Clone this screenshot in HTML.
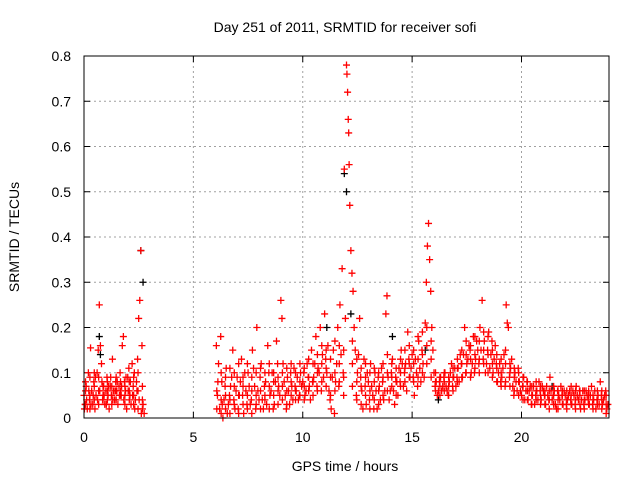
<!DOCTYPE html>
<html><head><meta charset="utf-8"><style>
html,body{margin:0;padding:0;background:#fff;}
svg{display:block;font-family:"Liberation Sans",sans-serif;}
</style></head><body>
<svg id="chart" width="640" height="480" xmlns="http://www.w3.org/2000/svg">
<text x="345" y="32" font-size="14" text-anchor="middle" fill="#000">Day 251 of 2011, SRMTID for receiver sofi</text>
<text transform="translate(19,237) rotate(-90)" font-size="14" text-anchor="middle">SRMTID / TECUs</text>
<text x="345" y="471" font-size="14" text-anchor="middle">GPS time / hours</text>
<g id="grid"></g>
<g id="ticks"></g>
<g id="marks"></g>
<rect x="84" y="56" width="525" height="362" fill="none" stroke="#000" stroke-width="1"/>
</svg>
<script>
const xTicks=[0,5,10,15,20];
const yTicks=[0,0.1,0.2,0.3,0.4,0.5,0.6,0.7,0.8];
const yTickLabels=["0","0.1","0.2","0.3","0.4","0.5","0.6","0.7","0.8"];
const blackPoints=[[0.7,0.18],[2.6,0.37],[11.9,0.54],[12.0,0.5],[11.1,0.2],[15.6,0.15],[14.1,0.18],[16.2,0.04],[21.4,0.07],[12.2,0.23],[2.7,0.3],[0.75,0.14]];
const redPoints=[[0.0,0.05],[0.05,0.03],[0.1,0.07],[0.15,0.02],[0.2,0.1],[0.25,0.04],[0.3,0.155],[0.35,0.06],[0.4,0.03],[0.45,0.08],[0.5,0.02],[0.55,0.05],[0.6,0.1],[0.65,0.15],[0.7,0.25],[0.75,0.16],[0.8,0.12],[0.85,0.04],[0.9,0.07],[0.95,0.03],[1.0,0.06],[1.05,0.09],[1.1,0.05],[1.15,0.02],[1.2,0.07],[1.25,0.05],[1.3,0.13],[1.35,0.06],[1.4,0.04],[1.45,0.08],[1.5,0.06],[1.55,0.03],[1.6,0.07],[1.65,0.1],[1.7,0.05],[1.75,0.16],[1.8,0.18],[1.85,0.08],[1.9,0.06],[1.95,0.02],[2.0,0.09],[2.05,0.11],[2.1,0.05],[2.15,0.03],[2.2,0.12],[2.25,0.07],[2.3,0.1],[2.35,0.04],[2.4,0.08],[2.45,0.13],[2.5,0.22],[2.55,0.26],[2.6,0.37],[2.65,0.16],[2.7,0.03],[2.75,0.01],
[6.05,0.16],[6.1,0.05],[6.15,0.12],[6.2,0.02],[6.25,0.18],[6.3,0.08],[6.35,0.0],[6.4,0.04],[6.5,0.11],[6.6,0.03],[6.7,0.07],[6.8,0.15],[6.9,0.02],[7.0,0.09],[7.1,0.05],[7.2,0.13],[7.3,0.01],[7.4,0.06],[7.5,0.1],[7.6,0.03],[7.7,0.15],[7.8,0.07],[7.9,0.2],[8.0,0.04],[8.1,0.12],[8.2,0.02],[8.3,0.08],[8.4,0.16],[8.5,0.05],[8.6,0.1],[8.7,0.03],[8.8,0.17],[8.9,0.07],[9.0,0.26],[9.05,0.22],[9.1,0.12],[9.2,0.05],[9.3,0.09],[9.4,0.03],[9.5,0.07],[9.6,0.11],[9.7,0.06],[9.8,0.04],[9.9,0.1],[10.0,0.08],[10.1,0.05],[10.2,0.12],[10.3,0.07],[10.4,0.15],[10.5,0.09],[10.6,0.18],[10.7,0.11],[10.8,0.2],[10.9,0.14],[11.0,0.23],[11.1,0.1],[11.2,0.06],[11.3,0.02],[11.4,0.15],[11.5,0.08],[11.6,0.2],[11.7,0.25],[11.8,0.33],[11.9,0.55],[12.0,0.78],[12.02,0.76],[12.05,0.72],[12.08,0.66],[12.1,0.63],[12.12,0.56],[12.15,0.47],[12.2,0.37],[12.25,0.32],[12.3,0.28],[12.35,0.2],[12.4,0.15],[12.5,0.1],[12.6,0.22],[12.7,0.06],[12.8,0.13],[12.9,0.03],[13.0,0.08],[13.1,0.12],[13.2,0.05],[13.3,0.1],[13.4,0.02],[13.5,0.07],[13.6,0.11],[13.7,0.04],[13.8,0.23],[13.85,0.27],[13.9,0.09],[14.0,0.06],[14.1,0.13],[14.2,0.03],[14.3,0.08],[14.4,0.11],[14.5,0.15],[14.6,0.07],[14.7,0.12],[14.8,0.19],[14.9,0.09],[15.0,0.14],[15.1,0.05],[15.2,0.1],[15.3,0.17],[15.4,0.08],[15.5,0.12],[15.6,0.21],[15.65,0.3],[15.7,0.38],[15.75,0.43],[15.8,0.35],[15.85,0.28],[15.9,0.2],[15.95,0.15],[16.0,0.1],[16.1,0.08],[16.2,0.06],[16.3,0.09],[16.4,0.07],[16.5,0.1],[16.6,0.06],[16.7,0.08],[16.8,0.12],[16.9,0.09],[17.0,0.07],[17.1,0.11],[17.2,0.14],[17.3,0.09],[17.4,0.2],[17.5,0.12],[17.6,0.16],[17.7,0.1],[17.8,0.18],[17.9,0.13],[18.0,0.15],[18.1,0.2],[18.2,0.26],[18.3,0.17],[18.4,0.12],[18.5,0.19],[18.6,0.14],[18.7,0.1],[18.8,0.16],[18.9,0.08],[19.0,0.12],[19.1,0.09],[19.2,0.14],[19.3,0.25],[19.4,0.2],[19.5,0.11],[19.6,0.07],[19.7,0.1],[19.8,0.06],[19.9,0.08],[20.0,0.05],[20.1,0.09],[20.2,0.06],[20.3,0.04],[20.4,0.07],[20.5,0.05],[20.6,0.03],[20.7,0.06],[20.8,0.08],[20.9,0.04],[21.0,0.06],[21.1,0.03],[21.2,0.05],[21.3,0.09],[21.4,0.04],[21.5,0.06],[21.6,0.02],[21.7,0.05],[21.8,0.07],[21.9,0.03],[22.0,0.05],[22.1,0.04],[22.2,0.06],[22.3,0.03],[22.4,0.05],[22.5,0.07],[22.6,0.04],[22.7,0.02],[22.8,0.06],[22.9,0.04],[23.0,0.05],[23.1,0.03],[23.2,0.07],[23.3,0.04],[23.4,0.02],[23.5,0.05],[23.6,0.08],[23.7,0.03],[23.8,0.05],[23.9,0.02],
[0.02,0.02],[0.12,0.04],[0.22,0.06],[0.32,0.03],[0.42,0.05],[0.52,0.09],[0.62,0.04],[0.72,0.06],[0.82,0.08],[0.92,0.05],[1.02,0.03],[1.12,0.07],[1.22,0.09],[1.32,0.04],[1.42,0.06],[1.52,0.08],[1.62,0.05],[1.72,0.07],[1.82,0.04],[1.92,0.09],[2.02,0.06],[2.12,0.08],[2.22,0.05],[2.32,0.02],[2.42,0.06],[2.52,0.04],[2.62,0.01],
[6.12,0.08],[6.32,0.03],[6.45,0.07],[6.55,0.01],[6.65,0.05],[6.75,0.09],[6.85,0.04],[6.95,0.06],[7.05,0.02],[7.15,0.08],[7.25,0.05],[7.35,0.1],[7.45,0.03],[7.55,0.07],[7.65,0.04],[7.75,0.11],[7.85,0.02],[7.95,0.06],[8.05,0.09],[8.15,0.04],[8.25,0.07],[8.35,0.03],[8.45,0.1],[8.55,0.06],[8.65,0.02],[8.75,0.08],[8.85,0.12],[8.95,0.05],[9.15,0.08],[9.25,0.02],[9.35,0.06],[9.45,0.1],[9.55,0.04],[9.65,0.07],[9.75,0.09],[9.85,0.05],[9.95,0.07],[10.05,0.1],[10.15,0.06],[10.25,0.09],[10.35,0.04],[10.45,0.08],[10.55,0.12],[10.65,0.07],[10.75,0.1],[10.85,0.06],[10.95,0.09],[11.05,0.13],[11.15,0.16],[11.25,0.04],[11.35,0.09],[11.45,0.01],[11.55,0.12],[11.65,0.07],[11.75,0.14],[11.85,0.1],[11.95,0.22],[12.45,0.05],[12.55,0.14],[12.65,0.09],[12.75,0.02],[12.85,0.07],[12.95,0.1],[13.05,0.04],[13.15,0.07],[13.25,0.02],[13.35,0.06],[13.45,0.09],[13.55,0.04],[13.65,0.08],[13.75,0.06],[13.95,0.04],[14.05,0.1],[14.15,0.06],[14.25,0.09],[14.35,0.05],[14.45,0.08],[14.55,0.12],[14.65,0.1],[14.75,0.06],[14.85,0.13],[14.95,0.11],[15.05,0.09],[15.15,0.13],[15.25,0.07],[15.35,0.11],[15.45,0.15],[15.55,0.09],[16.05,0.07],[16.15,0.05],[16.25,0.08],[16.35,0.06],[16.45,0.09],[16.55,0.07],[16.65,0.05],[16.75,0.1],[16.85,0.07],[16.95,0.11],[17.05,0.09],[17.15,0.08],[17.25,0.12],[17.35,0.14],[17.45,0.1],[17.55,0.13],[17.65,0.15],[17.75,0.12],[17.85,0.1],[17.95,0.17],[18.05,0.12],[18.15,0.15],[18.25,0.13],[18.35,0.1],[18.45,0.15],[18.55,0.11],[18.65,0.17],[18.75,0.13],[18.85,0.12],[18.95,0.1],[19.05,0.08],[19.15,0.11],[19.25,0.07],[19.35,0.21],[19.45,0.09],[19.55,0.13],[19.65,0.05],[19.75,0.08],[19.85,0.11],[19.95,0.06],[20.05,0.07],[20.15,0.04],[20.25,0.08],[20.35,0.06],[20.45,0.03],[20.55,0.07],[20.65,0.05],[20.75,0.04],[20.85,0.06],[20.95,0.07],[21.05,0.05],[21.15,0.07],[21.25,0.04],[21.35,0.06],[21.45,0.05],[21.55,0.03],[21.65,0.06],[21.75,0.04],[21.85,0.05],[21.95,0.06],[22.05,0.03],[22.15,0.05],[22.25,0.04],[22.35,0.06],[22.45,0.03],[22.55,0.05],[22.65,0.06],[22.75,0.04],[22.85,0.03],[22.95,0.06],[23.05,0.04],[23.15,0.05],[23.25,0.03],[23.35,0.06],[23.45,0.04],[23.55,0.03],[23.65,0.05],[23.75,0.04],[23.85,0.06],[23.95,0.03]];
// additional dense samples: [time, [values...]]
const denseColumns=[[0.07,[0.03,0.06,0.08]],[0.27,[0.02,0.05,0.09]],[0.47,[0.04,0.07,0.1]],[0.67,[0.03,0.06,0.09]],[0.87,[0.05,0.07,0.04]],[1.07,[0.04,0.06,0.08]],[1.27,[0.05,0.07,0.03]],[1.47,[0.04,0.06,0.09]],[1.67,[0.05,0.08,0.06]],[1.87,[0.03,0.07,0.05]],[2.07,[0.04,0.06,0.08]],[2.27,[0.03,0.05,0.09]],[2.47,[0.02,0.06,0.1]],[2.67,[0.04,0.07,0.02]],
[6.07,[0.02,0.06]],[6.27,[0.04,0.1,0.01]],[6.47,[0.02,0.05,0.09]],[6.67,[0.01,0.04,0.11]],[6.87,[0.03,0.07,0.1]],[7.07,[0.01,0.05,0.12]],[7.27,[0.03,0.07,0.09]],[7.47,[0.02,0.05,0.12]],[7.67,[0.01,0.06,0.09]],[7.87,[0.03,0.05,0.1]],[8.07,[0.02,0.06,0.11]],[8.27,[0.04,0.05,0.1]],[8.47,[0.02,0.07,0.12]],[8.67,[0.05,0.08,0.1]],[8.87,[0.03,0.06,0.09]],[9.07,[0.04,0.07,0.1]],[9.27,[0.03,0.06,0.11]],[9.47,[0.05,0.08,0.12]],[9.67,[0.04,0.06,0.1]],[9.87,[0.05,0.08,0.12]],[10.07,[0.04,0.07,0.11]],[10.27,[0.06,0.09,0.13]],[10.47,[0.05,0.08,0.12]],[10.67,[0.06,0.1,0.14]],[10.87,[0.08,0.12,0.16]],[11.07,[0.07,0.11,0.15]],[11.27,[0.05,0.09,0.13]],[11.47,[0.06,0.1,0.17]],[11.67,[0.08,0.12,0.16]],[11.87,[0.05,0.09,0.15]],[12.27,[0.07,0.12,0.17]],[12.47,[0.04,0.08,0.13]],[12.67,[0.03,0.07,0.11]],[12.87,[0.05,0.09,0.12]],[13.07,[0.02,0.06,0.1]],[13.27,[0.04,0.08,0.11]],[13.47,[0.03,0.06,0.1]],[13.67,[0.05,0.09,0.12]],[13.87,[0.06,0.1,0.14]],[14.07,[0.07,0.09,0.12]],[14.27,[0.05,0.08,0.11]],[14.47,[0.07,0.1,0.13]],[14.67,[0.08,0.11,0.15]],[14.87,[0.09,0.12,0.16]],[15.07,[0.08,0.12,0.15]],[15.27,[0.09,0.13,0.18]],[15.47,[0.1,0.14,0.19]],[15.67,[0.12,0.16,0.2]],[15.87,[0.09,0.13,0.17]],[16.07,[0.06,0.08,0.1]],[16.27,[0.05,0.07,0.09]],[16.47,[0.06,0.08,0.1]],[16.67,[0.05,0.07,0.09]],[16.87,[0.06,0.09,0.11]],[17.07,[0.08,0.11,0.13]],[17.27,[0.09,0.12,0.15]],[17.47,[0.1,0.14,0.17]],[17.67,[0.09,0.13,0.16]],[17.87,[0.11,0.14,0.18]],[18.07,[0.1,0.13,0.17]],[18.27,[0.12,0.15,0.19]],[18.47,[0.1,0.14,0.18]],[18.67,[0.09,0.12,0.15]],[18.87,[0.08,0.11,0.14]],[19.07,[0.07,0.1,0.13]],[19.27,[0.08,0.12,0.15]],[19.47,[0.07,0.1,0.12]],[19.67,[0.06,0.09,0.11]],[19.87,[0.05,0.08,0.1]],[20.07,[0.04,0.07,0.09]],[20.27,[0.04,0.06,0.08]],[20.47,[0.03,0.05,0.07]],[20.67,[0.04,0.06,0.08]],[20.87,[0.03,0.05,0.07]],[21.07,[0.03,0.05,0.06]],[21.27,[0.02,0.04,0.06]],[21.47,[0.03,0.05,0.07]],[21.67,[0.02,0.04,0.06]],[21.87,[0.03,0.05,0.06]],[22.07,[0.02,0.04,0.06]],[22.27,[0.03,0.05,0.07]],[22.47,[0.02,0.04,0.06]],[22.67,[0.03,0.05,0.06]],[22.87,[0.02,0.04,0.06]],[23.07,[0.03,0.05,0.06]],[23.27,[0.02,0.04,0.05]],[23.47,[0.03,0.04,0.06]],[23.67,[0.02,0.04,0.06]],[23.87,[0.01,0.03,0.05]]];

const X0=84,X1=609,Y0=418,Y1=56,XMAX=24,YMAX=0.8;
function sx(t){return X0+(X1-X0)*t/XMAX;}
function sy(v){return Y0-(Y0-Y1)*v/YMAX;}
const NS="http://www.w3.org/2000/svg";
function mk(tag,attrs,parent){const e=document.createElementNS(NS,tag);for(const k in attrs)e.setAttribute(k,attrs[k]);parent.appendChild(e);return e;}
const grid=document.getElementById('grid'),ticks=document.getElementById('ticks'),marks=document.getElementById('marks');
xTicks.forEach(t=>{
  const x=sx(t);
  if(t>0){const g=mk('line',{x1:x,x2:x,y1:Y1,y2:Y0,stroke:'#a0a0a0','stroke-dasharray':'2,3'},grid);
  
  }
  mk('line',{x1:x,x2:x,y1:Y0,y2:Y0-6,stroke:'#000'},ticks);
  mk('line',{x1:x,x2:x,y1:Y1,y2:Y1+6,stroke:'#000'},ticks);
  const l=mk('text',{x:x,y:Y0+24,'font-size':14,'text-anchor':'middle'},ticks);
  l.textContent=String(t);
  
  
});
yTicks.forEach((v,i)=>{
  const y=sy(v);
  if(v>0&&v<YMAX){const g=mk('line',{x1:X0,x2:X1,y1:y,y2:y,stroke:'#a0a0a0','stroke-dasharray':'2,3'},grid);
  
  }
  mk('line',{x1:X0,x2:X0+6,y1:y,y2:y,stroke:'#000'},ticks);
  mk('line',{x1:X1,x2:X1-6,y1:y,y2:y,stroke:'#000'},ticks);
  const l=mk('text',{x:71,y:y+5,'font-size':14,'text-anchor':'end'},ticks);
  l.textContent=yTickLabels[i];
  
  
});
function plus(t,v,color){
  const x=sx(t),y=sy(v);
  return mk('path',{d:`M${x-3.5},${y}H${x+3.5}M${x},${y-3.5}V${y+3.5}`,stroke:color,'stroke-width':1.3,fill:'none'},marks);
}
blackPoints.forEach(p=>{const e=plus(p[0],p[1],'#000');
  
  });
redPoints.forEach(p=>{const e=plus(p[0],p[1],'#ff0000');
  
  });
denseColumns.forEach(c=>{c[1].forEach(v=>{const e=plus(c[0],v,'#ff0000');
  
  });});
</script>
</body></html>
